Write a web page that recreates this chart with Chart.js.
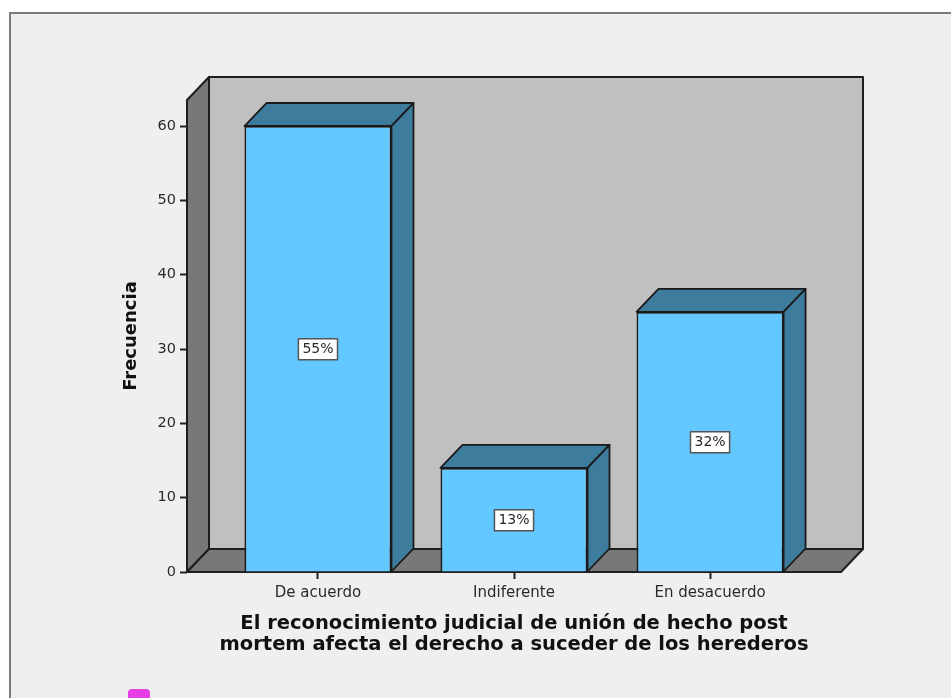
<!DOCTYPE html>
<html>
<head>
<meta charset="utf-8">
<script src="https://cdn.jsdelivr.net/npm/chart.js@4.4.0/dist/chart.umd.min.js"></script>
<style>
  html, body { margin: 0; padding: 0; background: #fff; overflow: hidden; }
  #frame { position: absolute; left: 9px; top: 12px; width: 960px; height: 700px;
           background: #efefef; border-top: 2px solid #7a7a7a; border-left: 2px solid #7a7a7a; }
  #mark { position: absolute; left: 128px; top: 689px; width: 22px; height: 14px;
          background: #e63ee2; border-radius: 4px; }
  #chart { position: absolute; left: 0; top: 0; }
</style>
</head>
<body>
<div id="frame"></div>
<canvas id="chart" width="951" height="698"></canvas>
<div id="mark"></div>
<script>
var categories = ['De acuerdo', 'Indiferente', 'En desacuerdo'];
var frecuencia = [60, 14, 35];
var yTicks = [0, 10, 20, 30, 40, 50, 60];

var total = frecuencia.reduce(function (a, b) { return a + b; }, 0);
var depthX = 22, depthY = 23;
var font = '"DejaVu Sans", Verdana, sans-serif';

function poly(ctx, pts, fill) {
    ctx.beginPath();
    ctx.moveTo(pts[0][0], pts[0][1]);
    for (var i = 1; i < pts.length; i++) ctx.lineTo(pts[i][0], pts[i][1]);
    ctx.closePath();
    ctx.fillStyle = fill;
    ctx.fill();
    ctx.stroke();
}

var box3d = {
    id: 'box3d',
    beforeDraw: function (chart) {
        var a = chart.chartArea, ctx = chart.ctx;
        ctx.save();
        ctx.lineWidth = 2;
        ctx.strokeStyle = '#1e1e1e';
        ctx.lineJoin = 'round';
        // back wall
        poly(ctx, [[a.left + depthX, a.top - depthY], [a.right + depthX, a.top - depthY],
                   [a.right + depthX, a.bottom - depthY], [a.left + depthX, a.bottom - depthY]], '#c0c0c0');
        // left wall
        poly(ctx, [[a.left, a.top], [a.left + depthX, a.top - depthY],
                   [a.left + depthX, a.bottom - depthY], [a.left, a.bottom]], '#787878');
        // floor
        poly(ctx, [[a.left, a.bottom], [a.left + depthX, a.bottom - depthY],
                   [a.right + depthX, a.bottom - depthY], [a.right, a.bottom]], '#787878');
        ctx.restore();
    },
    afterDatasetsDraw: function (chart) {
        var ctx = chart.ctx;
        var bars = chart.getDatasetMeta(0).data;
        ctx.save();
        ctx.lineJoin = 'round';
        bars.forEach(function (bar, i) {
            var l = bar.x - bar.width / 2, r = bar.x + bar.width / 2, t = bar.y, b = bar.base;
            ctx.lineWidth = 1.8;
            ctx.strokeStyle = '#1a1a1a';
            poly(ctx, [[l, t], [l + depthX, t - depthY], [r + depthX, t - depthY], [r, t]], '#3e7c9d');
            poly(ctx, [[r, t], [r + depthX, t - depthY], [r + depthX, b - depthY], [r, b]], '#3e7c9d');

            // percentage label
            var txt = Math.round(frecuencia[i] / total * 100) + '%';
            var cy = (t + b) / 2;
            ctx.font = '14px ' + font;
            var w = ctx.measureText(txt).width + 8;
            ctx.lineWidth = 1.5;
            ctx.fillStyle = '#fff';
            ctx.strokeStyle = '#555';
            ctx.fillRect(bar.x - w / 2, cy - 10, w, 21);
            ctx.strokeRect(bar.x - w / 2, cy - 10, w, 21);
            ctx.fillStyle = '#2a2a2a';
            ctx.textAlign = 'center';
            ctx.textBaseline = 'middle';
            ctx.fillText(txt, bar.x, cy + 1);
        });
        ctx.restore();
    }
};

new Chart(document.getElementById('chart'), {
    type: 'bar',
    data: {
        datasets: [{
            label: 'Frecuencia',
            data: frecuencia.map(function (v, i) { return { x: i, y: v }; }),
            backgroundColor: '#63c8ff',
            borderColor: '#1a1a1a',
            borderWidth: 1.8,
            barPercentage: 0.75,
            categoryPercentage: 1
        }]
    },
    options: {
        responsive: false,
        animation: false,
        layout: { padding: { top: 100, right: 110, left: 0, bottom: 0 } },
        plugins: { legend: { display: false }, tooltip: { enabled: false } },
        scales: {
            x: {
                type: 'linear',
                offset: false,
                min: -0.668,
                max: 2.668,
                afterFit: function (s) { s.height = 126; },
                afterBuildTicks: function (s) {
                    s.ticks = categories.map(function (c, i) { return { value: i }; });
                },
                border: { display: false },
                grid: { offset: false, drawOnChartArea: false, tickLength: 7, tickWidth: 2, tickColor: '#222' },
                ticks: {
                    padding: 5,
                    color: '#2a2a2a',
                    font: { family: font, size: 15 },
                    callback: function (v) { return categories[v]; }
                },
                title: {
                    display: true,
                    text: ['El reconocimiento judicial de unión de hecho post',
                           'mortem afecta el derecho a suceder de los herederos'],
                    color: '#111',
                    font: { family: font, size: 19.5, weight: 'bold', lineHeight: '21px' },
                    padding: { bottom: 42.5 }
                }
            },
            y: {
                min: 0,
                max: 63.5,
                afterFit: function (s) { s.width = 187; },
                afterBuildTicks: function (s) {
                    s.ticks = yTicks.map(function (v) { return { value: v }; });
                },
                border: { display: false },
                grid: { drawOnChartArea: false, tickLength: 7, tickWidth: 2, tickColor: '#222' },
                ticks: {
                    padding: 4,
                    color: '#2a2a2a',
                    font: { family: font, size: 14.5 }
                },
                title: {
                    display: true,
                    text: 'Frecuencia',
                    color: '#111',
                    font: { family: font, size: 18, weight: 'bold', lineHeight: '22px' },
                    padding: { top: 120 }
                }
            }
        }
    },
    plugins: [box3d]
});
</script>
</body>
</html>
